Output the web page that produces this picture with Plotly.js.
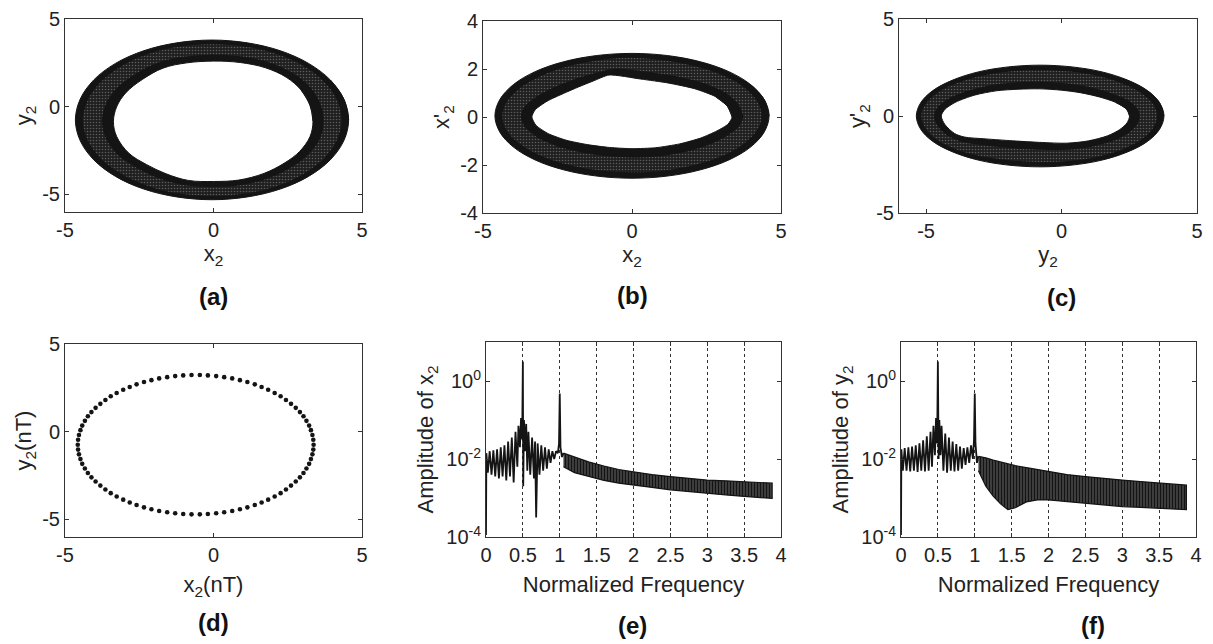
<!DOCTYPE html>
<html>
<head>
<meta charset="utf-8">
<script src="https://cdn.plot.ly/plotly-3.0.1.min.js"></script>
<style>html,body{margin:0;padding:0;background:#fff;}#chart{width:1213px;height:644px;}</style>
</head>
<body>
<div id="chart"></div>
<script>
// ---------- (a) x2 vs y2 : ring boundaries (24 points each, same angular order) ----------
const aOuterX = [4.55,4.39,3.93,3.20,2.25,1.14,-0.05,-1.24,-2.35,-3.30,-4.03,-4.49,-4.65,-4.49,-4.03,-3.30,-2.35,-1.24,-0.05,1.14,2.25,3.20,3.93,4.39];
const aOuterY = [-0.75,0.43,1.53,2.47,3.19,3.64,3.80,3.64,3.19,2.47,1.53,0.43,-0.75,-1.93,-3.03,-3.97,-4.69,-5.14,-5.30,-5.14,-4.69,-3.97,-3.03,-1.93];
const aInnerX = [3.35,3.25,2.95,2.45,1.75,0.90,0,-0.90,-1.70,-2.40,-2.95,-3.26,-3.37,-3.26,-2.85,-2.25,-1.60,-0.85,0,0.85,1.70,2.40,2.90,3.25];
const aInnerY = [-0.83,0.08,0.95,1.68,2.22,2.52,2.60,2.50,2.20,1.55,0.80,0.00,-0.85,-1.70,-2.65,-3.30,-3.82,-4.20,-4.26,-4.18,-3.80,-3.20,-2.55,-1.70];

// ---------- (b) x2 vs x2' ----------
const bOuterX = [4.6,4.44,3.98,3.25,2.30,1.19,0,-1.19,-2.30,-3.25,-3.98,-4.44,-4.6,-4.44,-3.98,-3.25,-2.30,-1.19,0,1.19,2.30,3.25,3.98,4.44];
const bOuterY = [0.05,0.72,1.35,1.89,2.30,2.56,2.65,2.56,2.30,1.89,1.35,0.72,0.05,-0.62,-1.25,-1.79,-2.20,-2.46,-2.55,-2.46,-2.20,-1.79,-1.25,-0.62];
const bInnerX = [3.36,3.2,2.8,2.1,1.2,0.3,-0.77,-1.3,-1.8,-2.3,-2.85,-3.25,-3.36,-3.22,-2.8,-2.2,-1.5,-0.75,0,0.8,1.6,2.3,2.85,3.22];
const bInnerY = [0,0.45,0.85,1.18,1.42,1.58,1.75,1.5,1.25,0.98,0.66,0.3,0,-0.35,-0.7,-0.97,-1.15,-1.27,-1.32,-1.28,-1.12,-0.88,-0.58,-0.3];

// ---------- (c) y2 vs y2' ----------
const cOuterX = [3.78,3.62,3.17,2.44,1.50,0.39,-0.79,-1.97,-3.08,-4.02,-4.75,-5.20,-5.36,-5.20,-4.75,-4.02,-3.08,-1.97,-0.79,0.39,1.50,2.44,3.17,3.62];
const cOuterY = [0,0.68,1.31,1.85,2.27,2.53,2.62,2.53,2.27,1.85,1.31,0.68,0,-0.68,-1.31,-1.85,-2.27,-2.53,-2.62,-2.53,-2.27,-1.85,-1.31,-0.68];
const cInnerX = [2.51,2.4,2.0,1.4,0.7,0,-0.8,-1.6,-2.4,-3.2,-3.9,-4.3,-4.44,-4.3,-3.95,-3.6,-2.8,-1.8,-0.8,0.2,1.0,1.7,2.15,2.42];
const cInnerY = [0,0.35,0.7,0.98,1.2,1.33,1.4,1.38,1.3,1.08,0.72,0.35,0,-0.45,-0.9,-1.08,-1.18,-1.28,-1.36,-1.4,-1.28,-1.02,-0.7,-0.35];

// ---------- (d) Poincare section x2(nT), y2(nT) ----------
const dX = [3.37,3.36,3.33,3.28,3.22,3.13,3.03,2.91,2.77,2.61,2.44,2.26,2.06,1.84,1.62,1.39,1.14,0.89,0.63,0.36,0.09,-0.19,-0.46,
  -0.74,-1.02,-1.29,-1.56,-1.83,-2.09,-2.34,-2.59,-2.82,-3.04,-3.26,-3.46,-3.64,-3.81,-3.97,-4.11,-4.23,-4.33,-4.42,-4.48,-4.53,-4.56,
  -4.57,-4.56,-4.53,-4.48,-4.42,-4.33,-4.23,-4.11,-3.97,-3.81,-3.64,-3.46,-3.26,-3.04,-2.82,-2.59,-2.34,-2.09,-1.83,-1.56,-1.29,-1.02,-0.74,
  -0.46,-0.19,0.09,0.36,0.63,0.89,1.14,1.39,1.62,1.84,2.06,2.26,2.44,2.61,2.77,2.91,3.03,3.13,3.22,3.28,3.33,3.36];
const dY = [-0.74,-0.46,-0.19,0.09,0.35,0.62,0.88,1.12,1.36,1.59,1.81,2.02,2.21,2.39,2.55,2.70,2.83,2.94,3.04,3.11,3.17,3.21,3.23,
  3.23,3.21,3.17,3.11,3.04,2.94,2.83,2.70,2.55,2.39,2.21,2.02,1.81,1.59,1.36,1.12,0.88,0.62,0.35,0.09,-0.19,-0.46,
  -0.74,-1.02,-1.29,-1.56,-1.83,-2.10,-2.35,-2.60,-2.84,-3.07,-3.29,-3.50,-3.69,-3.87,-4.03,-4.18,-4.31,-4.42,-4.52,-4.59,-4.65,-4.69,-4.71,
  -4.71,-4.69,-4.65,-4.59,-4.52,-4.42,-4.31,-4.18,-4.03,-3.87,-3.69,-3.50,-3.29,-3.07,-2.84,-2.60,-2.35,-2.10,-1.83,-1.56,-1.29,-1.02];

// ---------- (e) spectrum of x2 (log10 amplitude) ----------
const eLeftF = [0,0.005,0.025,0.05,0.075,0.1,0.125,0.15,0.175,0.2,0.225,0.25,0.275,0.3,0.325,0.35,0.375,0.4,0.425,0.44,0.46,0.475,0.49,0.5,0.505,0.515,0.53,0.545,0.56,0.575,0.6,0.625,0.65,0.665,0.68,0.7,0.725,0.75,0.775,0.8,0.825,0.85,0.875,0.9,0.925,0.95,0.975,0.99,1.0,1.01,1.03,1.05];
const eLeftLog = [-3.95,-1.85,-2.35,-1.8,-2.4,-1.78,-2.45,-1.75,-2.5,-1.7,-2.45,-1.65,-2.55,-1.55,-2.45,-1.45,-2.6,-1.3,-2.2,-1.15,-1.7,-0.95,-1.5,0.5,-2.7,-1.0,-1.8,-1.1,-2.3,-1.3,-2.4,-1.45,-2.5,-1.55,-3.5,-1.6,-2.4,-1.65,-2.3,-1.7,-2.25,-1.75,-2.1,-1.8,-2.0,-1.8,-1.85,-1.6,-0.32,-1.7,-1.95,-1.85];
const eBandF = [1.05,1.2,1.4,1.6,1.8,2.0,2.25,2.5,2.75,3.0,3.25,3.5,3.7,3.88];
const eUpperLog = [-1.85,-1.95,-2.08,-2.18,-2.27,-2.33,-2.4,-2.45,-2.5,-2.54,-2.56,-2.58,-2.6,-2.62];
const eLowerLog = [-2.2,-2.35,-2.45,-2.55,-2.62,-2.67,-2.73,-2.79,-2.84,-2.88,-2.92,-2.96,-2.99,-3.01];

// ---------- (f) spectrum of y2 (log10 amplitude) ----------
const fLeftF = [0,0.005,0.025,0.05,0.075,0.1,0.125,0.15,0.175,0.2,0.225,0.25,0.275,0.3,0.325,0.35,0.375,0.4,0.42,0.44,0.46,0.475,0.49,0.5,0.51,0.52,0.535,0.55,0.575,0.6,0.625,0.65,0.675,0.7,0.725,0.75,0.775,0.8,0.825,0.85,0.875,0.9,0.925,0.95,0.975,0.99,1.0,1.01,1.03,1.05];
const fLeftLog = [-3.95,-1.75,-2.3,-1.72,-2.3,-1.7,-2.32,-1.68,-2.3,-1.65,-2.33,-1.6,-2.3,-1.52,-2.32,-1.42,-2.3,-1.3,-2.2,-1.15,-1.9,-0.95,-1.6,0.5,-2.0,-1.0,-1.9,-1.15,-2.3,-1.35,-2.35,-1.45,-2.3,-1.55,-2.32,-1.62,-2.3,-1.68,-2.25,-1.72,-2.15,-1.7,-2.1,-1.65,-2.0,-1.5,-0.32,-1.6,-2.1,-1.93];
const fBandF = [1.05,1.15,1.25,1.35,1.45,1.55,1.7,1.85,2.0,2.25,2.5,2.75,3.0,3.25,3.5,3.7,3.87];
const fUpperLog = [-1.93,-1.97,-2.03,-2.08,-2.13,-2.17,-2.22,-2.27,-2.33,-2.4,-2.45,-2.5,-2.54,-2.58,-2.62,-2.65,-2.67];
const fLowerLog = [-2.3,-2.7,-2.95,-3.15,-3.3,-3.25,-3.1,-3.05,-3.05,-3.1,-3.14,-3.18,-3.22,-3.24,-3.26,-3.28,-3.3];

// ---------- tick labels ----------
const logTickVals = [1e-4, 1e-2, 1];
const logTickText = ['10<sup>-4</sup>', '10<sup>-2</sup>', '10<sup>0</sup>'];
const freqTickVals = [0,0.5,1,1.5,2,2.5,3,3.5,4];
const freqTickText = ['0','0.5','1','1.5','2','2.5','3','3.5','4'];
const fiveTickVals = [-5,0,5];
const fiveTickText = ['-5','0','5'];
const fourTickVals = [-4,-2,0,2,4];
const fourTickText = ['-4','-2','0','2','4'];
const panelLabels = ['(a)','(b)','(c)','(d)','(e)','(f)'];

// ---------- helpers ----------
const pow10 = a => a.map(v => Math.pow(10, v));
const INK = '#141414';
const blend = (o, i, t) => o.map((v, k) => i[k] + t * (v - i[k]));
const wrap = a => a.concat([a[0], a[1], a[2]]);   // repeat the start so the closed spline has no kink
function ring(ox, oy, ix, iy, xa, ya, innerSmooth) {
  const base = {xaxis: xa, yaxis: ya, mode: 'lines', fill: 'toself', hoverinfo: 'skip', showlegend: false};
  const sp = (c, w, s) => ({color: c, width: w, shape: 'spline', smoothing: s});
  return [
    Object.assign({x: wrap(ox), y: wrap(oy), fillcolor: INK, line: sp(INK, 1, 1)}, base),
    Object.assign({x: wrap(blend(ox, ix, 0.8)), y: wrap(blend(oy, iy, 0.8)), fillcolor: '#242424',
      fillpattern: {shape: '.', size: 3, solidity: 0.22, fgcolor: '#5c5c5c', bgcolor: '#1f1f1f'},
      line: sp('#1f1f1f', 0, 1)}, base),
    Object.assign({x: wrap(blend(ox, ix, 0.3)), y: wrap(blend(oy, iy, 0.3)), fillcolor: INK, line: sp(INK, 0, innerSmooth)}, base),
    Object.assign({x: wrap(ix), y: wrap(iy), fillcolor: '#ffffff', line: sp(INK, 1, innerSmooth)}, base)
  ];
}
function band(f, up, lo, xa, ya) {
  return {x: f.concat(f.slice().reverse()), y: pow10(up).concat(pow10(lo).reverse()),
    xaxis: xa, yaxis: ya, mode: 'lines', fill: 'toself', fillcolor: INK,
    fillpattern: {shape: '|', size: 3, solidity: 0.7, fgcolor: INK, bgcolor: '#6e6e6e'},
    line: {color: INK, width: 1.2}, hoverinfo: 'skip', showlegend: false};
}

const data = [
  ...ring(aOuterX, aOuterY, aInnerX, aInnerY, 'x', 'y', 1),
  ...ring(bOuterX, bOuterY, bInnerX, bInnerY, 'x2', 'y2', 0.6),
  ...ring(cOuterX, cOuterY, cInnerX, cInnerY, 'x3', 'y3', 0.8),
  {x: dX, y: dY, xaxis: 'x4', yaxis: 'y4', mode: 'markers', marker: {size: 4.6, color: INK}, hoverinfo: 'skip', showlegend: false},
  band(eBandF, eUpperLog, eLowerLog, 'x5', 'y5'),
  {x: eLeftF, y: pow10(eLeftLog), xaxis: 'x5', yaxis: 'y5', mode: 'lines', line: {color: INK, width: 1.8}, hoverinfo: 'skip', showlegend: false},
  band(fBandF, fUpperLog, fLowerLog, 'x6', 'y6'),
  {x: fLeftF, y: pow10(fLeftLog), xaxis: 'x6', yaxis: 'y6', mode: 'lines', line: {color: INK, width: 1.8}, hoverinfo: 'skip', showlegend: false}
];

const FONT = 'Liberation Sans, Arial, Helvetica, sans-serif';
function ax(extra) {
  return Object.assign({
    showline: true, mirror: 'ticks', linecolor: '#333', linewidth: 1,
    ticks: 'inside', ticklen: 4, tickcolor: '#333', tickwidth: 1,
    showgrid: false, zeroline: false, fixedrange: true,
    tickfont: {family: FONT, size: 20, color: '#222'}
  }, extra);
}
function t(text, standoff) { return {text: text, font: {family: FONT, size: 22, color: '#222'}, standoff: standoff}; }
const W = 1213, H = 644;
const dx = (l, r) => [l / W, r / W];
const dy = (top, bot) => [1 - bot / H, 1 - top / H];
const fgrid = {showgrid: true, gridcolor: '#333', griddash: 'dot', gridwidth: 1};
const five = {tickvals: fiveTickVals, ticktext: fiveTickText};

const layout = {
  width: W, height: H, margin: {l: 0, r: 0, t: 0, b: 0},
  paper_bgcolor: '#fff', plot_bgcolor: '#fff', showlegend: false,
  font: {family: FONT, color: '#222'},
  xaxis: ax(Object.assign({domain: dx(65, 362), range: [-5, 5], anchor: 'y', title: t('x<sub>2</sub>', 4)}, five)),
  yaxis: ax(Object.assign({domain: dy(19, 212), range: [-6, 5], anchor: 'x', title: t('y<sub>2</sub>', 4)}, five)),
  xaxis2: ax(Object.assign({domain: dx(483, 781), range: [-5, 5], anchor: 'y2', title: t('x<sub>2</sub>', 4)}, five)),
  yaxis2: ax({domain: dy(21, 213), range: [-4, 4], tickvals: fourTickVals, ticktext: fourTickText, anchor: 'x2', title: t("x'<sub>2</sub>", 4)}),
  xaxis3: ax(Object.assign({domain: dx(899, 1197), range: [-6, 5], anchor: 'y3', title: t('y<sub>2</sub>', 4)}, five)),
  yaxis3: ax(Object.assign({domain: dy(19, 213), range: [-5, 5], anchor: 'x3', title: t("y'<sub>2</sub>", 4)}, five)),
  xaxis4: ax(Object.assign({domain: dx(65, 362), range: [-5, 5], anchor: 'y4', title: t('x<sub>2</sub>(nT)', 11)}, five)),
  yaxis4: ax(Object.assign({domain: dy(344, 537), range: [-6, 5], anchor: 'x4', title: t('y<sub>2</sub>(nT)', 4)}, five)),
  xaxis5: ax(Object.assign({domain: dx(486, 781), range: [0, 4], tickvals: freqTickVals, ticktext: freqTickText, anchor: 'y5', title: t('Normalized Frequency', 11)}, fgrid)),
  yaxis5: ax({domain: dy(342, 537), type: 'log', range: [-4, 1], tickvals: logTickVals, ticktext: logTickText, anchor: 'x5', title: t('Amplitude of x<sub>2</sub>', 6)}),
  xaxis6: ax(Object.assign({domain: dx(901, 1196), range: [0, 4], tickvals: freqTickVals, ticktext: freqTickText, anchor: 'y6', title: t('Normalized Frequency', 11)}, fgrid)),
  yaxis6: ax({domain: dy(342, 537), type: 'log', range: [-4, 1], tickvals: logTickVals, ticktext: logTickText, anchor: 'x6', title: t('Amplitude of y<sub>2</sub>', 6)}),
  annotations: [
    [213, 297], [632, 295], [1061, 298], [213, 622], [632, 625], [1093, 625]
  ].map((p, i) => ({text: '<b>' + panelLabels[i] + '</b>', x: p[0] / W, y: 1 - p[1] / H, xref: 'paper', yref: 'paper',
    xanchor: 'center', yanchor: 'middle', showarrow: false, font: {family: FONT, size: 24, color: '#111'}}))
};

Plotly.newPlot('chart', data, layout, {staticPlot: true, displayModeBar: false});
</script>
</body>
</html>
